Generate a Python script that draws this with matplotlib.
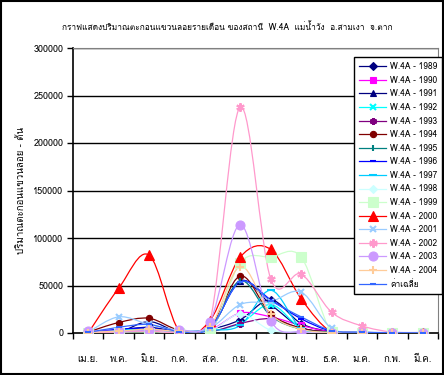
import matplotlib
matplotlib.use('Agg')
import matplotlib.pyplot as plt
from matplotlib import font_manager, ft2font
from matplotlib.path import Path
from matplotlib.patches import PathPatch, Rectangle
from matplotlib.lines import Line2D

# หาฟอนต์ที่มีอักษรไทย
thai_font = None
for f in font_manager.fontManager.ttflist:
    try:
        if 0x0E01 in ft2font.FT2Font(f.fname).get_charmap():
            thai_font = f.name
            break
    except Exception:
        pass
families = [thai_font, 'DejaVu Sans'] if thai_font else ['DejaVu Sans']
plt.rcParams['font.family'] = families

months = ['เม.ย.', 'พ.ค.', 'มิ.ย.', 'ก.ค.', 'ส.ค.', 'ก.ย.', 'ต.ค.', 'พ.ย.', 'ธ.ค.', 'ม.ค.', 'ก.พ.', 'มี.ค.']

y1989 = [500, 3000, 6000, 1500, 4000, 14000, 35000, 10000, 1500, 500, 300, 200]
y1990 = [800, 2000, 3000, 1000, 3000, 21000, 17000, 8000, 1000, 400, 200, 100]
y1991 = [300, 1000, 12000, 1000, 5000, 55000, 30000, 6000, 1000, 400, 200, 100]
y1992 = [500, 3000, 4000, 1500, 2000, 10000, 30000, 5000, 500, 300, 200, 100]
y1993 = [200, 1000, 2000, 500, 1000, 10000, 15000, 5000, 500, 200, 100, 100]
y1994 = [1000, 11000, 15500, 3000, 5000, 60000, 20000, 5000, 1000, 500, 300, 200]
y1995 = [300, 2000, 3000, 1000, 3000, 55000, 18000, 4000, 800, 300, 200, 100]
y1996 = [500, 4000, 5000, 1500, 5000, 54000, 35000, 15000, 2000, 500, 300, 200]
y1997 = [200, 1000, 2000, 500, 3000, 8000, 45000, 5000, 500, 200, 100, 100]
y1998 = [300, 1500, 2000, 500, 2000, 20000, 3000, 1000, 300, 200, 100, 100]
y1999 = [0, 0, 0, 0, 0, 74000, 80000, 80000, 1000, 0, 0, 0]
y2000 = [0, 47000, 82000, 2000, 13000, 80000, 88000, 36000, 1000, 500, 300, 200]
y2001 = [1000, 17000, 9000, 3000, 5000, 30000, 33000, 43000, 5000, 1000, 500, 300]
y2002 = [0, 1000, 2000, 1000, 12000, 238000, 57000, 62000, 22000, 7500, 1000, 500]
y2003 = [2000, 2000, 3000, 3000, 12000, 114000, 13000, 1000, 500, 500, 500, 500]
y2004 = [500, 2000, 4000, 2000, 6000, 70000, 20000, 4000, 500, 300, 200, 100]
y_avg = [600, 6000, 9000, 1500, 5000, 54000, 34000, 17000, 2500, 800, 300, 200]

ASTER = (6, 2, 0)
series = [
    ('W.4A - 1989', y1989, '#000080', 'D', 4),
    ('W.4A - 1990', y1990, '#FF00FF', 's', 4.5),
    ('W.4A - 1991', y1991, '#000080', '^', 5),
    ('W.4A - 1992', y1992, '#00FFFF', 'x', 4),
    ('W.4A - 1993', y1993, '#800080', ASTER, 5),
    ('W.4A - 1994', y1994, '#800000', 'o', 4.5),
    ('W.4A - 1995', y1995, '#008080', '|', 5),
    ('W.4A - 1996', y1996, '#0000FF', '_', 4),
    ('W.4A - 1997', y1997, '#00CCFF', '_', 6),
    ('W.4A - 1998', y1998, '#CCFFFF', 'D', 4.5),
    ('W.4A - 1999', y1999, '#CCFFCC', 's', 7),
    ('W.4A - 2000', y2000, '#FF0000', '^', 7),
    ('W.4A - 2001', y2001, '#99CCFF', 'x', 5),
    ('W.4A - 2002', y2002, '#FF99CC', ASTER, 6),
    ('W.4A - 2003', y2003, '#CC99FF', 'o', 6.5),
    ('W.4A - 2004', y2004, '#FFCC99', '+', 6),
    ('ค่าเฉลี่ย', y_avg, '#3366FF', '_', 5),
]
THIN = ('_', '|', 'x', '+', ASTER)


def smooth_path(xs, ys):
    # เส้นโค้งแบบ smoothed line ของ Excel (Bezier ผ่านทุกจุด)
    n = len(xs)
    verts = [(xs[0], ys[0])]
    codes = [Path.MOVETO]
    for i in range(n - 1):
        a = max(i - 1, 0)
        b = min(i + 2, n - 1)
        c1 = (xs[i] + (xs[i + 1] - xs[a]) / 6, ys[i] + (ys[i + 1] - ys[a]) / 6)
        c2 = (xs[i + 1] - (xs[b] - xs[i]) / 6, ys[i + 1] - (ys[b] - ys[i]) / 6)
        verts += [c1, c2, (xs[i + 1], ys[i + 1])]
        codes += [Path.CURVE4] * 3
    return Path(verts, codes)


fig = plt.figure(figsize=(4.44, 3.75), dpi=100)
ax = fig.add_axes([73 / 444, 1 - 333 / 375, 365 / 444, 285 / 375])

x = list(range(len(months)))
handles = []
for label, vals, color, mk, ms in series:
    mew = 1.5 if mk in THIN else 0.8
    ax.add_patch(PathPatch(smooth_path(x, vals), fill=False, edgecolor=color, lw=0.9, zorder=3))
    ax.plot(x, vals, linestyle='none', marker=mk, color=color, markersize=ms,
            markeredgewidth=mew, zorder=4)
    handles.append(Line2D([], [], color=color, lw=0.9, marker=mk, markersize=ms,
                          markeredgewidth=mew))

ax.set_xlim(-0.5, 11.5)
ax.set_ylim(0, 300000)
ax.set_yticks(range(0, 300001, 50000))
ax.set_yticklabels([str(v) for v in range(0, 300001, 50000)], fontsize=6.5)
for v in range(50000, 300001, 50000):
    ax.axhline(v, color='black', lw=1, zorder=1)

ax.set_xticks([i - 0.5 for i in range(13)])
ax.set_xticklabels([])
ax.set_xticks(x, minor=True)
ax.set_xticklabels(months, minor=True, fontsize=7)
ax.tick_params(axis='x', which='minor', length=0, pad=16)
ax.tick_params(axis='x', which='major', length=4, width=1, direction='out')
ax.tick_params(axis='y', length=4, width=1, direction='out', pad=3)

for s in ['top', 'right']:
    ax.spines[s].set_color('#808080')
for s in ['left', 'bottom']:
    ax.spines[s].set_color('black')
    ax.spines[s].set_linewidth(1.2)

ax.set_ylabel('ปริมาณตะกอนแขวนลอย - ตัน', fontsize=7)
ax.yaxis.set_label_coords(-0.13, 0.5)

fig.text(227 / 444, 1 - 27 / 375, 'กราฟแสดงปริมาณตะกอนแขวนลอยรายเดือน ของสถานี  W.4A  แม่น้ำวัง  อ.สามเงา  จ.ตาก',
         ha='center', va='center', fontsize=6)

leg = fig.legend(handles, [s[0] for s in series], loc='upper left',
                 bbox_to_anchor=(350 / 444, 1 - 53 / 375), fontsize=6,
                 handlelength=3.2, handletextpad=0.5, labelspacing=0.55,
                 borderpad=0.6, fancybox=False, framealpha=1, edgecolor='black')
leg.get_frame().set_linewidth(1)

fig.patches.append(Rectangle((0.002, 0.003), 0.995, 0.994, transform=fig.transFigure,
                             fill=False, edgecolor='black', lw=1.5))

fig.savefig('out.png', dpi=100)
